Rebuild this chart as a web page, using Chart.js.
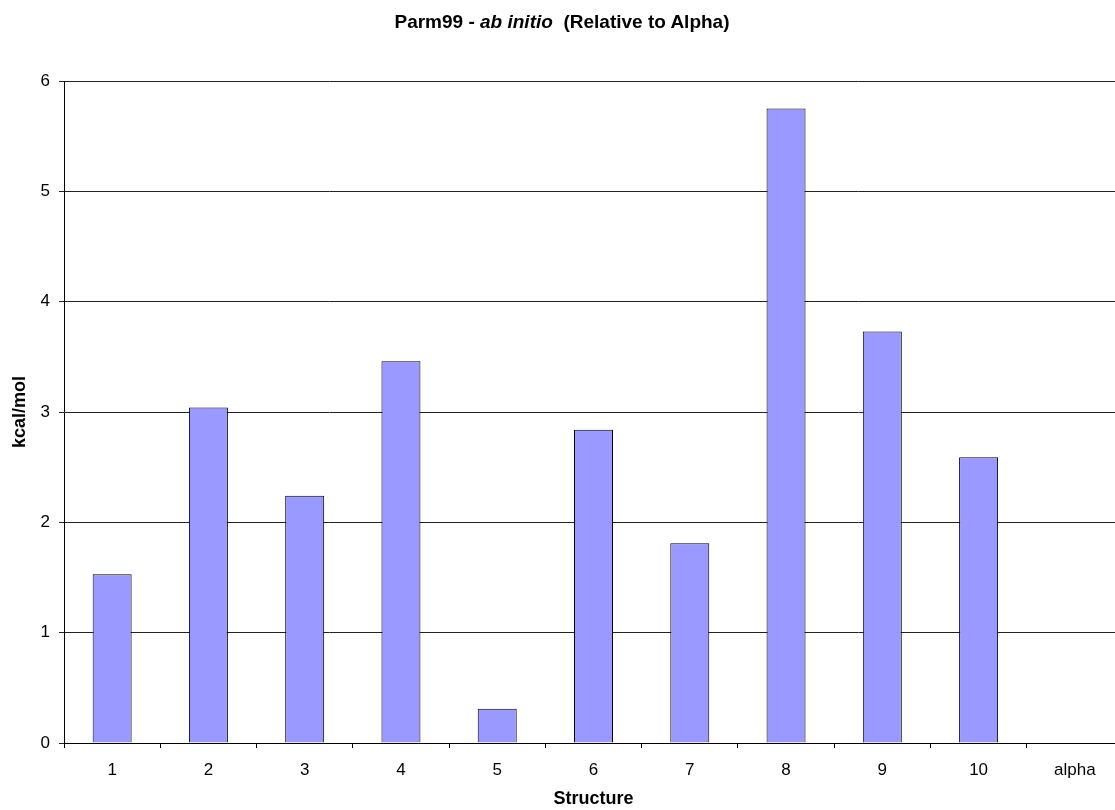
<!DOCTYPE html>
<html>
<head>
<meta charset="utf-8">
<script src="https://cdn.jsdelivr.net/npm/chart.js@4"></script>
<style>
  html, body { margin: 0; background: #fff; overflow: hidden; }
  #wrap { position: relative; width: 1135px; height: 810px; }
  #title {
    position: absolute; top: 11px; left: 0; width: 1124px; text-align: center;
    font: bold 19px "Liberation Sans", Arial, sans-serif; color: #000; white-space: pre;
  }
  canvas { display: block; }
</style>
</head>
<body>
<div id="wrap">
  <canvas id="chart" width="1135" height="810"></canvas>
  <div id="title">Parm99 - <i>ab initio</i>  (Relative to Alpha)</div>
</div>
<script>
const STRUCTURES = ['1', '2', '3', '4', '5', '6', '7', '8', '9', '10', 'alpha'];
const ENERGIES = [1.53, 3.04, 2.24, 3.46, 0.31, 2.84, 1.81, 5.75, 3.73, 2.59, 0];
const Y_TICKS = [0, 1, 2, 3, 4, 5, 6];
const Y_TITLE = 'kcal/mol';
const X_TITLE = 'Structure';

const FONT = '"Liberation Sans", Arial, sans-serif';

const ctx = document.getElementById('chart').getContext('2d');
new Chart(ctx, {
    type: 'bar',
    data: {
        labels: STRUCTURES,
        datasets: [{
            label: 'Parm99 - ab initio',
            data: ENERGIES,
            backgroundColor: '#9999ff',
            borderColor: '#000000',
            borderWidth: 1,
            categoryPercentage: 1,
            barPercentage: 0.405
        }]
    },
    options: {
        responsive: false,
        animation: false,
        layout: { padding: { top: 81, right: 12, left: 0, bottom: 0 } },
        plugins: {
            legend: { display: false },
            tooltip: { enabled: false }
        },
        scales: {
            x: {
                offset: true,
                afterFit: (scale) => { scale.height = 67; },
                grid: { offset: true, drawOnChartArea: false, drawTicks: true, tickLength: 5, color: '#000' },
                border: { color: '#000', width: 1 },
                ticks: { color: '#000', font: { family: FONT, size: 17 }, padding: 12, maxRotation: 0, autoSkip: false },
                title: { display: true, text: X_TITLE, color: '#000', font: { family: FONT, size: 18, weight: 'bold' }, padding: { top: 0, bottom: 0 } }
            },
            y: {
                min: Y_TICKS[0],
                max: Y_TICKS[Y_TICKS.length - 1],
                afterFit: (scale) => { scale.width = 64; },
                ticks: { stepSize: 1, color: '#000', font: { family: FONT, size: 17 }, padding: 9 },
                grid: { color: '#222', lineWidth: 1, tickLength: 5 },
                border: { color: '#000', width: 1 },
                title: { display: true, text: Y_TITLE, color: '#000', font: { family: FONT, size: 18, weight: 'bold' }, padding: { top: 9, bottom: 0 } }
            }
        }
    }
});
</script>
</body>
</html>
